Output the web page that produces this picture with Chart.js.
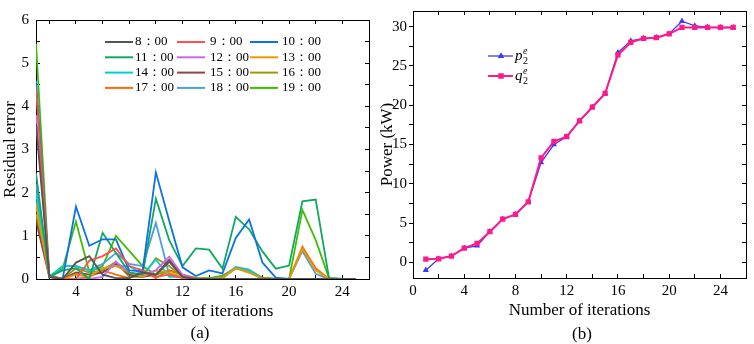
<!DOCTYPE html>
<html lang="en">
<head>
<meta charset="UTF-8">
<title>Residual error and power</title>
<style>
  body { margin: 0; background: #fff; width: 754px; height: 344px; position: relative; overflow: hidden; font-family: "Liberation Serif", serif; }
  canvas { position: absolute; top: 0; }
  .tag { position: absolute; font-size: 17px; transform: translate(-50%, -50%); color: #000; }
</style>
</head>
<body>
<canvas id="chartA" width="377" height="344" style="left:0"></canvas>
<canvas id="chartB" width="377" height="344" style="left:377px"></canvas>
<div class="tag" style="left:200px;top:333px">(a)</div>
<div class="tag" style="left:582px;top:334px">(b)</div>
<script src="https://cdn.jsdelivr.net/npm/chart.js"></script>
<script>
  // iterations 1..25
  const iters = [1,2,3,4,5,6,7,8,9,10,11,12,13,14,15,16,17,18,19,20,21,22,23,24,25];

  // (a) residual error per hour
  const hours = ['8：00','9：00','10：00','11：00','12：00','13：00','14：00','15：00','16：00','17：00','18：00','19：00'];
  const err08 = [3.6,0.05,0,0.38,0.53,0.1,0.02,0.02,0.15,0.1,0.4,0.05,0,0,0,0,0,0,0,0,0,0,0,0,0];
  const err09 = [4.4,0.05,0,0,0.42,0.53,0.71,0.3,0.2,0.05,0.1,0.02,0,0,0,0,0,0,0,0,0,0,0,0,0];
  const err10 = [4.6,0.05,0,1.68,0.77,0.92,0.92,0.2,0.18,2.47,1.35,0.27,0.07,0.2,0.13,0.95,1.38,0.38,0.03,0,0,0,0,0,0];
  const err11 = [2.45,0.05,0.2,0.25,0,1.07,0.6,0.15,0.1,1.86,0.9,0.3,0.71,0.68,0.24,1.44,1.15,0.64,0.24,0.31,1.8,1.84,0.02,0,0];
  const err12 = [3.8,0.05,0,0,0,0.05,0.4,0.15,0.1,0.2,0.52,0.1,0,0,0,0,0,0,0,0,0,0,0,0,0];
  const err13 = [1.7,0.05,0,0.1,0.05,0.25,0.3,0.15,0.05,0.2,0.15,0.05,0,0,0.02,0.25,0.15,0,0,0,0.7,0.2,0,0,0];
  const err14 = [2.0,0.05,0.3,0.3,0.2,0.25,0.3,0.3,0.1,0.45,0.05,0.05,0,0,0.02,0.25,0.2,0,0,0,0,0,0,0,0];
  const err15 = [1.35,0.05,0,0.15,0.1,0.15,0.35,0.1,0.05,0.1,0.45,0.05,0,0,0,0,0,0,0,0,0,0,0,0,0];
  const err16 = [1.5,0.1,0,0.25,0.15,0.2,0.4,0.05,0.05,0.48,0.3,0.05,0,0,0.05,0.25,0.2,0.02,0,0,0,0,0,0,0];
  const err17 = [1.8,0.05,0,0,0.05,0.2,0.1,0.02,0.2,0.02,0.2,0.1,0.02,0,0.05,0.25,0.15,0.02,0,0,0.75,0.25,0,0,0];
  const err18 = [2.2,0.05,0.3,0.3,0.2,0.35,0.6,0.35,0.3,1.3,0.1,0.05,0,0,0.05,0.28,0.22,0.02,0,0,0.65,0.12,0,0,0];
  const err19 = [5.45,0.07,0.24,1.33,0.16,0.3,1.0,0.65,0.3,0.1,0.2,0.1,0.02,0.02,0.08,0.25,0.2,0.03,0,0,1.6,0.9,0.02,0,0];
  const errSeries = [err08,err09,err10,err11,err12,err13,err14,err15,err16,err17,err18,err19];
  const hourColors = ['#555555','#ff5050','#0a72e6','#10a860','#cc66ee','#e89a00','#00d0d0','#8c4646','#9a9a10','#ff6a00','#4a9fdd','#3cbf00'];

  // (b) power, kW
  const powerP = [-1.0,0.45,0.8,1.8,2.1,3.9,5.5,6.1,7.7,12.7,15.0,16.0,18.0,19.75,21.5,26.7,28.2,28.5,28.6,29.1,30.7,30.1,29.95,29.9,29.9];
  const powerQ = [0.4,0.45,0.8,1.8,2.4,3.9,5.5,6.1,7.7,13.3,15.4,16.0,18.0,19.75,21.5,26.4,28.0,28.5,28.6,29.1,29.9,29.9,29.9,29.9,29.9];

  const FONT = 'Liberation Serif';
  Chart.defaults.font.family = FONT;
  Chart.defaults.color = '#000';

  const pts = arr => iters.map((x, i) => ({ x: x, y: arr[i] }));

  // fixed tick positions (major + minor), so no tick is dropped near the bounds
  function stepTicks(from, to, step) {
    const out = [];
    for (let v = from; v <= to + 1e-9; v += step) out.push({ value: Math.round(v * 100) / 100 });
    return out;
  }

  function frameScale(pos, min, max, from, to, step, size) {
    return {
      type: 'linear', position: pos, min: min, max: max,
      ticks: { display: false },
      afterBuildTicks: s => { s.ticks = stepTicks(from, to, step); },
      grid: { drawOnChartArea: false, tickLength: -4, color: '#000' },
      border: { color: '#000', width: 1 },
      afterFit: s => { if (pos === 'top') s.height = size; else s.width = size; }
    };
  }

  // legend grid for panel (a)
  const hourLegend = {
    id: 'hourLegend',
    afterDraw(chart) {
      const ctx = chart.ctx;
      const lineX = [105, 177, 250];
      const textX = [135, 210, 282];
      ctx.save();
      ctx.font = '13px ' + FONT;
      ctx.textBaseline = 'middle';
      chart.data.datasets.forEach((ds, i) => {
        const col = i % 3, row = Math.floor(i / 3);
        const y = 42 + row * 15.3;
        ctx.strokeStyle = ds.borderColor;
        ctx.lineWidth = 2;
        ctx.beginPath();
        ctx.moveTo(lineX[col], y);
        ctx.lineTo(lineX[col] + 28, y);
        ctx.stroke();
        ctx.fillStyle = '#000';
        ctx.fillText(ds.label, textX[col], y);
      });
      ctx.restore();
    }
  };

  new Chart(document.getElementById('chartA'), {
    type: 'line',
    data: {
      datasets: errSeries.map((s, i) => ({
        label: hours[i],
        data: pts(s),
        borderColor: hourColors[i],
        backgroundColor: hourColors[i],
        borderWidth: 1.8,
        pointRadius: 0,
        tension: 0,
        xAxisID: 'x', yAxisID: 'y'
      }))
    },
    options: {
      responsive: false,
      animation: false,
      layout: { padding: { left: 0, right: 4, top: 8, bottom: 22 } },
      plugins: { legend: { display: false }, tooltip: { enabled: false } },
      scales: {
        x: {
          type: 'linear', position: 'bottom', min: 1, max: 26,
          ticks: { font: { size: 15 }, padding: 8, maxRotation: 0, autoSkip: false,
                   callback: v => (v % 4 === 0 ? v : '') },
          afterBuildTicks: s => { s.ticks = stepTicks(2, 26, 2); },
          grid: { drawOnChartArea: false, tickLength: -4, color: '#000' },
          border: { color: '#000', width: 1 },
          title: { display: true, text: 'Number of iterations', font: { size: 17 }, padding: 0 },
          afterFit: s => { s.height = 43; }
        },
        y: {
          type: 'linear', position: 'left', min: 0, max: 6,
          ticks: { font: { size: 15 }, padding: 11, autoSkip: false,
                   callback: v => (Number.isInteger(v) ? v : '') },
          afterBuildTicks: s => { s.ticks = stepTicks(0, 6, 0.5); },
          grid: { drawOnChartArea: false, tickLength: -4, color: '#000' },
          border: { color: '#000', width: 1 },
          title: { display: true, text: 'Residual error', font: { size: 17 }, padding: 0 },
          afterFit: s => { s.width = 36; }
        },
        xTop: frameScale('top', 1, 26, 2, 26, 2, 0),
        yRight: frameScale('right', 0, 6, 0, 6, 0.5, 0)
      }
    },
    plugins: [hourLegend]
  });

  // legend for panel (b)
  const powerLegend = {
    id: 'powerLegend',
    afterDraw(chart) {
      const ctx = chart.ctx;
      ctx.save();
      chart.data.datasets.forEach((ds, i) => {
        const y = 56 + i * 20;
        ctx.strokeStyle = ds.borderColor;
        ctx.fillStyle = ds.borderColor;
        ctx.lineWidth = ds.borderWidth;
        ctx.beginPath();
        ctx.moveTo(111, y);
        ctx.lineTo(136, y);
        ctx.stroke();
        Chart.helpers.drawPoint(ctx, { pointStyle: ds.pointStyle, radius: 2.5, borderWidth: 1 }, 124, y);
        ctx.fillStyle = '#000';
        ctx.textBaseline = 'middle';
        ctx.font = 'italic 15px ' + FONT;
        ctx.fillText(ds.label.charAt(0), 138, y);
        ctx.font = '10px ' + FONT;
        ctx.fillText('2', 146, y + 5);
        ctx.font = 'italic 10px ' + FONT;
        ctx.fillText('e', 146, y - 5);
      });
      ctx.restore();
    }
  };

  new Chart(document.getElementById('chartB'), {
    type: 'line',
    data: {
      datasets: [
        { label: 'p₂ᵉ', data: pts(powerP), borderColor: '#3a3aff', backgroundColor: '#3a3aff',
          borderWidth: 1.3, pointStyle: 'triangle', pointRadius: 2.3, tension: 0, order: 1,
          xAxisID: 'x', yAxisID: 'y' },
        { label: 'q₂ᵉ', data: pts(powerQ), borderColor: '#ff1a8c', backgroundColor: '#ff1a8c',
          borderWidth: 2, pointStyle: 'rect', pointRadius: 2.3, tension: 0, order: 0,
          xAxisID: 'x', yAxisID: 'y' }
      ]
    },
    options: {
      responsive: false,
      animation: false,
      layout: { padding: { left: 0, right: 2, top: 7, bottom: 23 } },
      plugins: { legend: { display: false }, tooltip: { enabled: false } },
      scales: {
        x: {
          type: 'linear', position: 'bottom', min: 0, max: 26,
          ticks: { font: { size: 15 }, padding: 8, maxRotation: 0, autoSkip: false,
                   callback: v => (v % 4 === 0 ? v : '') },
          afterBuildTicks: s => { s.ticks = stepTicks(0, 26, 2); },
          grid: { drawOnChartArea: false, tickLength: -4, color: '#000' },
          border: { color: '#000', width: 1 },
          title: { display: true, text: 'Number of iterations', font: { size: 17 }, padding: 0 },
          afterFit: s => { s.height = 43; }
        },
        y: {
          type: 'linear', position: 'left', min: -2, max: 32,
          ticks: { font: { size: 15 }, padding: 2, autoSkip: false,
                   callback: v => (v % 5 === 0 ? v : '') },
          afterBuildTicks: s => { s.ticks = stepTicks(0, 30, 2.5); },
          grid: { drawOnChartArea: false, tickLength: 4, color: '#000' },
          border: { color: '#000', width: 1 },
          title: { display: true, text: 'Power (kW)', font: { size: 17 }, padding: 0 },
          afterFit: s => { s.width = 36; }
        },
        xTop: frameScale('top', 0, 26, 0, 26, 2, 0),
        yRight: frameScale('right', -2, 32, 0, 30, 2.5, 0)
      }
    },
    plugins: [powerLegend]
  });
</script>
</body>
</html>
